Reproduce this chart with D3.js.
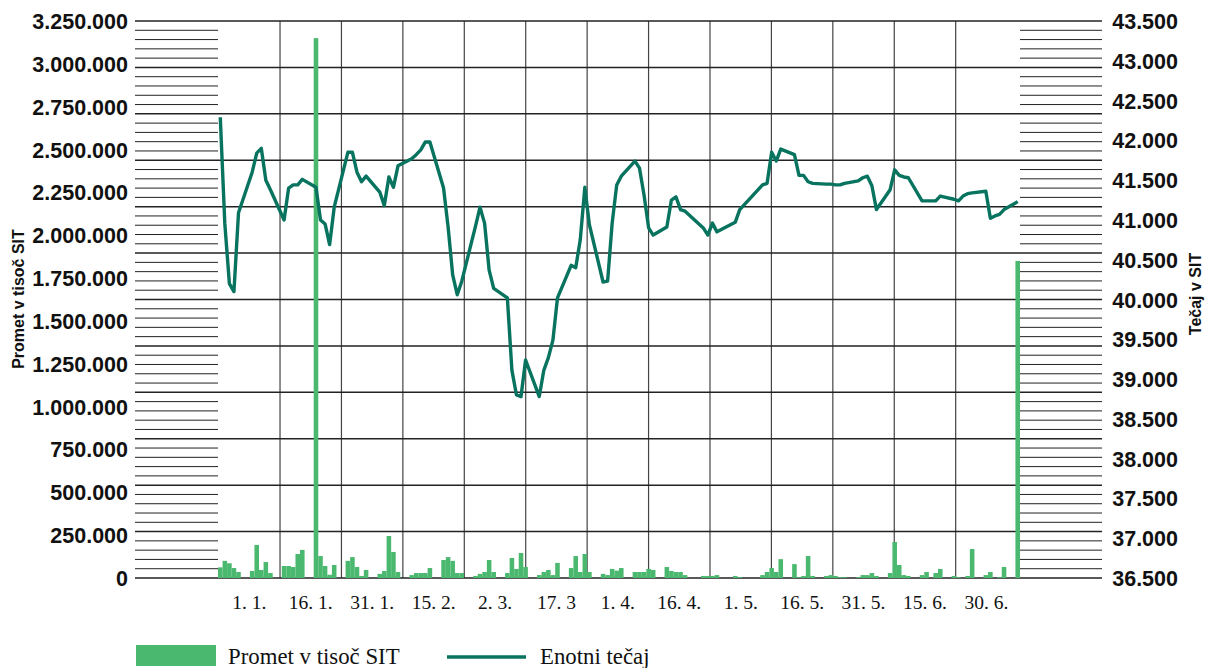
<!DOCTYPE html>
<html>
<head>
<meta charset="utf-8">
<script src="https://cdn.jsdelivr.net/npm/d3@7"></script>
<style>
  body { margin: 0; background: #fff; }
  svg { display: block; }
</style>
</head>
<body>
<main></main>
<script>
// Period labels under the x axis (each band = 15 days)
const periods = ["1. 1.", "16. 1.", "31. 1.", "15. 2.", "2. 3.", "17. 3", "1. 4.",
  "16. 4.", "1. 5.", "16. 5.", "31. 5.", "15. 6.", "30. 6."];

// Trading days, counted in calendar days from the first one
const days = [
  0, 1, 2, 3, 4, 7, 8, 9, 10, 11, 14, 15, 16, 17, 18, 21, 22, 23, 24, 25,
  28, 29, 30, 31, 32, 35, 36, 37, 38, 39, 42, 43, 44, 45, 46, 49, 50, 51, 52, 53,
  56, 57, 58, 59, 60, 63, 64, 65, 66, 67, 70, 71, 72, 73, 74, 77, 78, 79, 80, 81,
  84, 85, 86, 87, 88, 91, 92, 93, 94, 95, 98, 99, 100, 101, 102, 106, 107, 108, 109,
  113, 114, 119, 120, 121, 122, 123, 126, 127, 128, 129, 130, 133, 134, 135, 136, 137,
  140, 141, 142, 143, 144, 147, 148, 149, 150, 151, 154, 155, 156, 157, 158,
  161, 162, 163, 164, 165, 168, 169, 170, 171, 172, 175
];

// Promet v tisoč SIT
const turnover = [
  62000, 100000, 86000, 58000, 35000, 41000, 193000, 47000, 93000, 29000,
  70000, 70000, 64000, 140000, 164000, 3150000, 128000, 70000, 19000, 76000,
  100000, 122000, 64000, 12000, 47000, 24000, 41000, 245000, 152000, 35000,
  17000, 29000, 29000, 29000, 58000, 105000, 122000, 100000, 29000, 29000,
  12000, 24000, 35000, 105000, 35000, 29000, 117000, 53000, 146000, 64000,
  17000, 35000, 47000, 17000, 88000, 58000, 128000, 35000, 140000, 35000,
  24000, 17000, 53000, 43000, 58000, 35000, 35000, 35000, 53000, 47000,
  64000, 41000, 35000, 35000, 17000, 12000, 12000, 12000, 17000,
  12000, 5000, 17000, 35000, 58000, 35000, 110000, 81000, 5000, 12000, 128000, 12000,
  12000, 17000, 12000, 5000, 5000, 5000, 17000, 17000, 29000, 12000,
  29000, 210000, 76000, 17000, 12000, 17000, 35000, 0, 29000, 53000,
  12000, 5000, 0, 12000, 169000, 17000, 35000, 0, 5000, 64000, 1850000
];

// Enotni tečaj (SIT)
const rate = [
  42290, 40950, 40200, 40100, 41090, 41600, 41840, 41900, 41500, 41380,
  41000, 41400, 41440, 41440, 41510, 41410, 41000, 40950, 40690, 41160,
  41850, 41850, 41600, 41480, 41550, 41350, 41180, 41540, 41410, 41680,
  41770, 41820, 41880, 41980, 41980, 41400, 40910, 40310, 40060, 40230,
  40920, 41160, 40960, 40370, 40140, 40020, 39110, 38800, 38780, 39240,
  38780, 39110, 39270, 39490, 40020, 40430, 40400, 40750, 41410, 40940,
  40220, 40230, 40960, 41440, 41550, 41740, 41650, 41310, 40900, 40810,
  40910, 41250, 41290, 41130, 41110, 40900, 40810, 40960, 40850,
  40970, 41130, 41440, 41460, 41850, 41740, 41890, 41820, 41560, 41560, 41480, 41460,
  41450, 41450, 41440, 41440, 41460, 41490, 41530, 41550, 41430, 41130,
  41380, 41630, 41560, 41540, 41530, 41240, 41240, 41240, 41240, 41300,
  41260, 41240, 41300, 41330, 41340, 41360, 41020, 41050, 41070, 41130, 41230
];

const leftTicks = d3.range(0, 3250001, 250000);
const rightTicks = d3.range(36500, 43501, 500);

const W = 1207, H = 668;
const BAR = "#4ab86e";
const LINE = "#08735f";
const GRID = "#222";

const loc = d3.formatLocale({ decimal: ",", thousands: ".", grouping: [3], currency: ["", ""] });
const fmt = loc.format(",d");

const svg = d3.create("svg").attr("width", W).attr("height", H);

const yL = d3.scaleLinear().domain([0, 3250000]).range([578, 21]);
const yR = d3.scaleLinear().domain([36500, 43500]).range([578, 21]);
// The ruling does not follow the labels: 12 major steps, 5 minor lines each
const yG = d3.scaleLinear().domain([0, 60]).range([578, 21]);
const xBand = d3.scaleBand().domain(periods).range([218.6, 1017.1]);
const xDay = d3.scaleLinear().domain([0, 176]).range([218, 1020]);

const gridSteps = d3.range(0, 61);
const major = gridSteps.filter((v) => v % 5 === 0);
const minor = gridSteps.filter((v) => v % 5 !== 0);

// Minor lines at both sides
const gMinor = svg.append("g").attr("stroke", GRID).attr("stroke-width", 1);
[[135, 218], [1020, 1102]].forEach(([a, b]) => {
  gMinor.selectAll(null).data(minor).join("line")
    .attr("x1", a).attr("x2", b)
    .attr("y1", (d) => yG(d)).attr("y2", (d) => yG(d));
});

// Vertical separators between periods
svg.append("g").attr("stroke", "#444").attr("stroke-width", 1.2)
  .selectAll("line").data(periods.slice(1)).join("line")
  .attr("x1", (d) => xBand(d)).attr("x2", (d) => xBand(d))
  .attr("y1", yG(60)).attr("y2", yG(0));

// Major horizontal lines
svg.append("g").attr("stroke", GRID).attr("stroke-width", 1.5)
  .selectAll("line").data(major).join("line")
  .attr("x1", 135).attr("x2", 1102)
  .attr("y1", (d) => yG(d)).attr("y2", (d) => yG(d));

// Bars
svg.append("g").attr("fill", BAR)
  .selectAll("rect").data(days).join("rect")
  .attr("x", (d) => xDay(d))
  .attr("width", (d) => xDay(d + 1) - xDay(d))
  .attr("y", (d, i) => yL(turnover[i]))
  .attr("height", (d, i) => yL(0) - yL(turnover[i]));

// Rate line
const line = d3.line().x((d) => xDay(d + 0.5)).y((d, i) => yR(rate[i]));
svg.append("path").datum(days)
  .attr("fill", "none").attr("stroke", LINE).attr("stroke-width", 3.4)
  .attr("stroke-linejoin", "round").attr("d", line);

// Axes (labels only)
const sans = "'Liberation Sans', Arial, sans-serif";
const serif = "'Liberation Serif', 'Times New Roman', serif";

const axL = svg.append("g").attr("transform", "translate(128,0)")
  .call(d3.axisLeft(yL).tickValues(leftTicks).tickFormat(fmt).tickSize(0).tickPadding(0));
const axR = svg.append("g").attr("transform", "translate(1178,0)")
  .call(d3.axisLeft(yR).tickValues(rightTicks).tickFormat(fmt).tickSize(0).tickPadding(0));
[axL, axR].forEach((ax) => {
  ax.select(".domain").remove();
  ax.selectAll("text").attr("font-family", sans).attr("font-size", 21.5)
    .attr("font-weight", "bold").attr("fill", "#111").attr("dy", "0.35em");
});

const axB = svg.append("g").attr("transform", "translate(0,590)")
  .call(d3.axisBottom(xBand).tickSize(0).tickPadding(0));
axB.select(".domain").remove();
axB.selectAll("text").attr("font-family", serif).attr("font-size", 19.5)
  .attr("fill", "#111").attr("dy", "0.95em");

// Axis titles
svg.append("text").attr("transform", "translate(24,299) rotate(-90)")
  .attr("text-anchor", "middle").attr("font-family", sans).attr("font-size", 16)
  .attr("font-weight", "bold").attr("fill", "#111").text("Promet v tisoč SIT");
svg.append("text").attr("transform", "translate(1201,294) rotate(-90)")
  .attr("text-anchor", "middle").attr("font-family", sans).attr("font-size", 16)
  .attr("font-weight", "bold").attr("fill", "#111").text("Tečaj v SIT");

// Legend
const lg = svg.append("g");
lg.append("rect").attr("x", 136).attr("y", 645).attr("width", 80).attr("height", 21).attr("fill", BAR);
lg.append("text").attr("x", 228).attr("y", 664).attr("font-family", serif)
  .attr("font-size", 22.8).attr("fill", "#111").text("Promet v tisoč SIT");
lg.append("line").attr("x1", 447).attr("x2", 526).attr("y1", 657).attr("y2", 657)
  .attr("stroke", LINE).attr("stroke-width", 3.4);
lg.append("text").attr("x", 540).attr("y", 664).attr("font-family", serif)
  .attr("font-size", 22.8).attr("fill", "#111").text("Enotni tečaj");

document.querySelector("main").append(svg.node());
</script>
</body>
</html>
